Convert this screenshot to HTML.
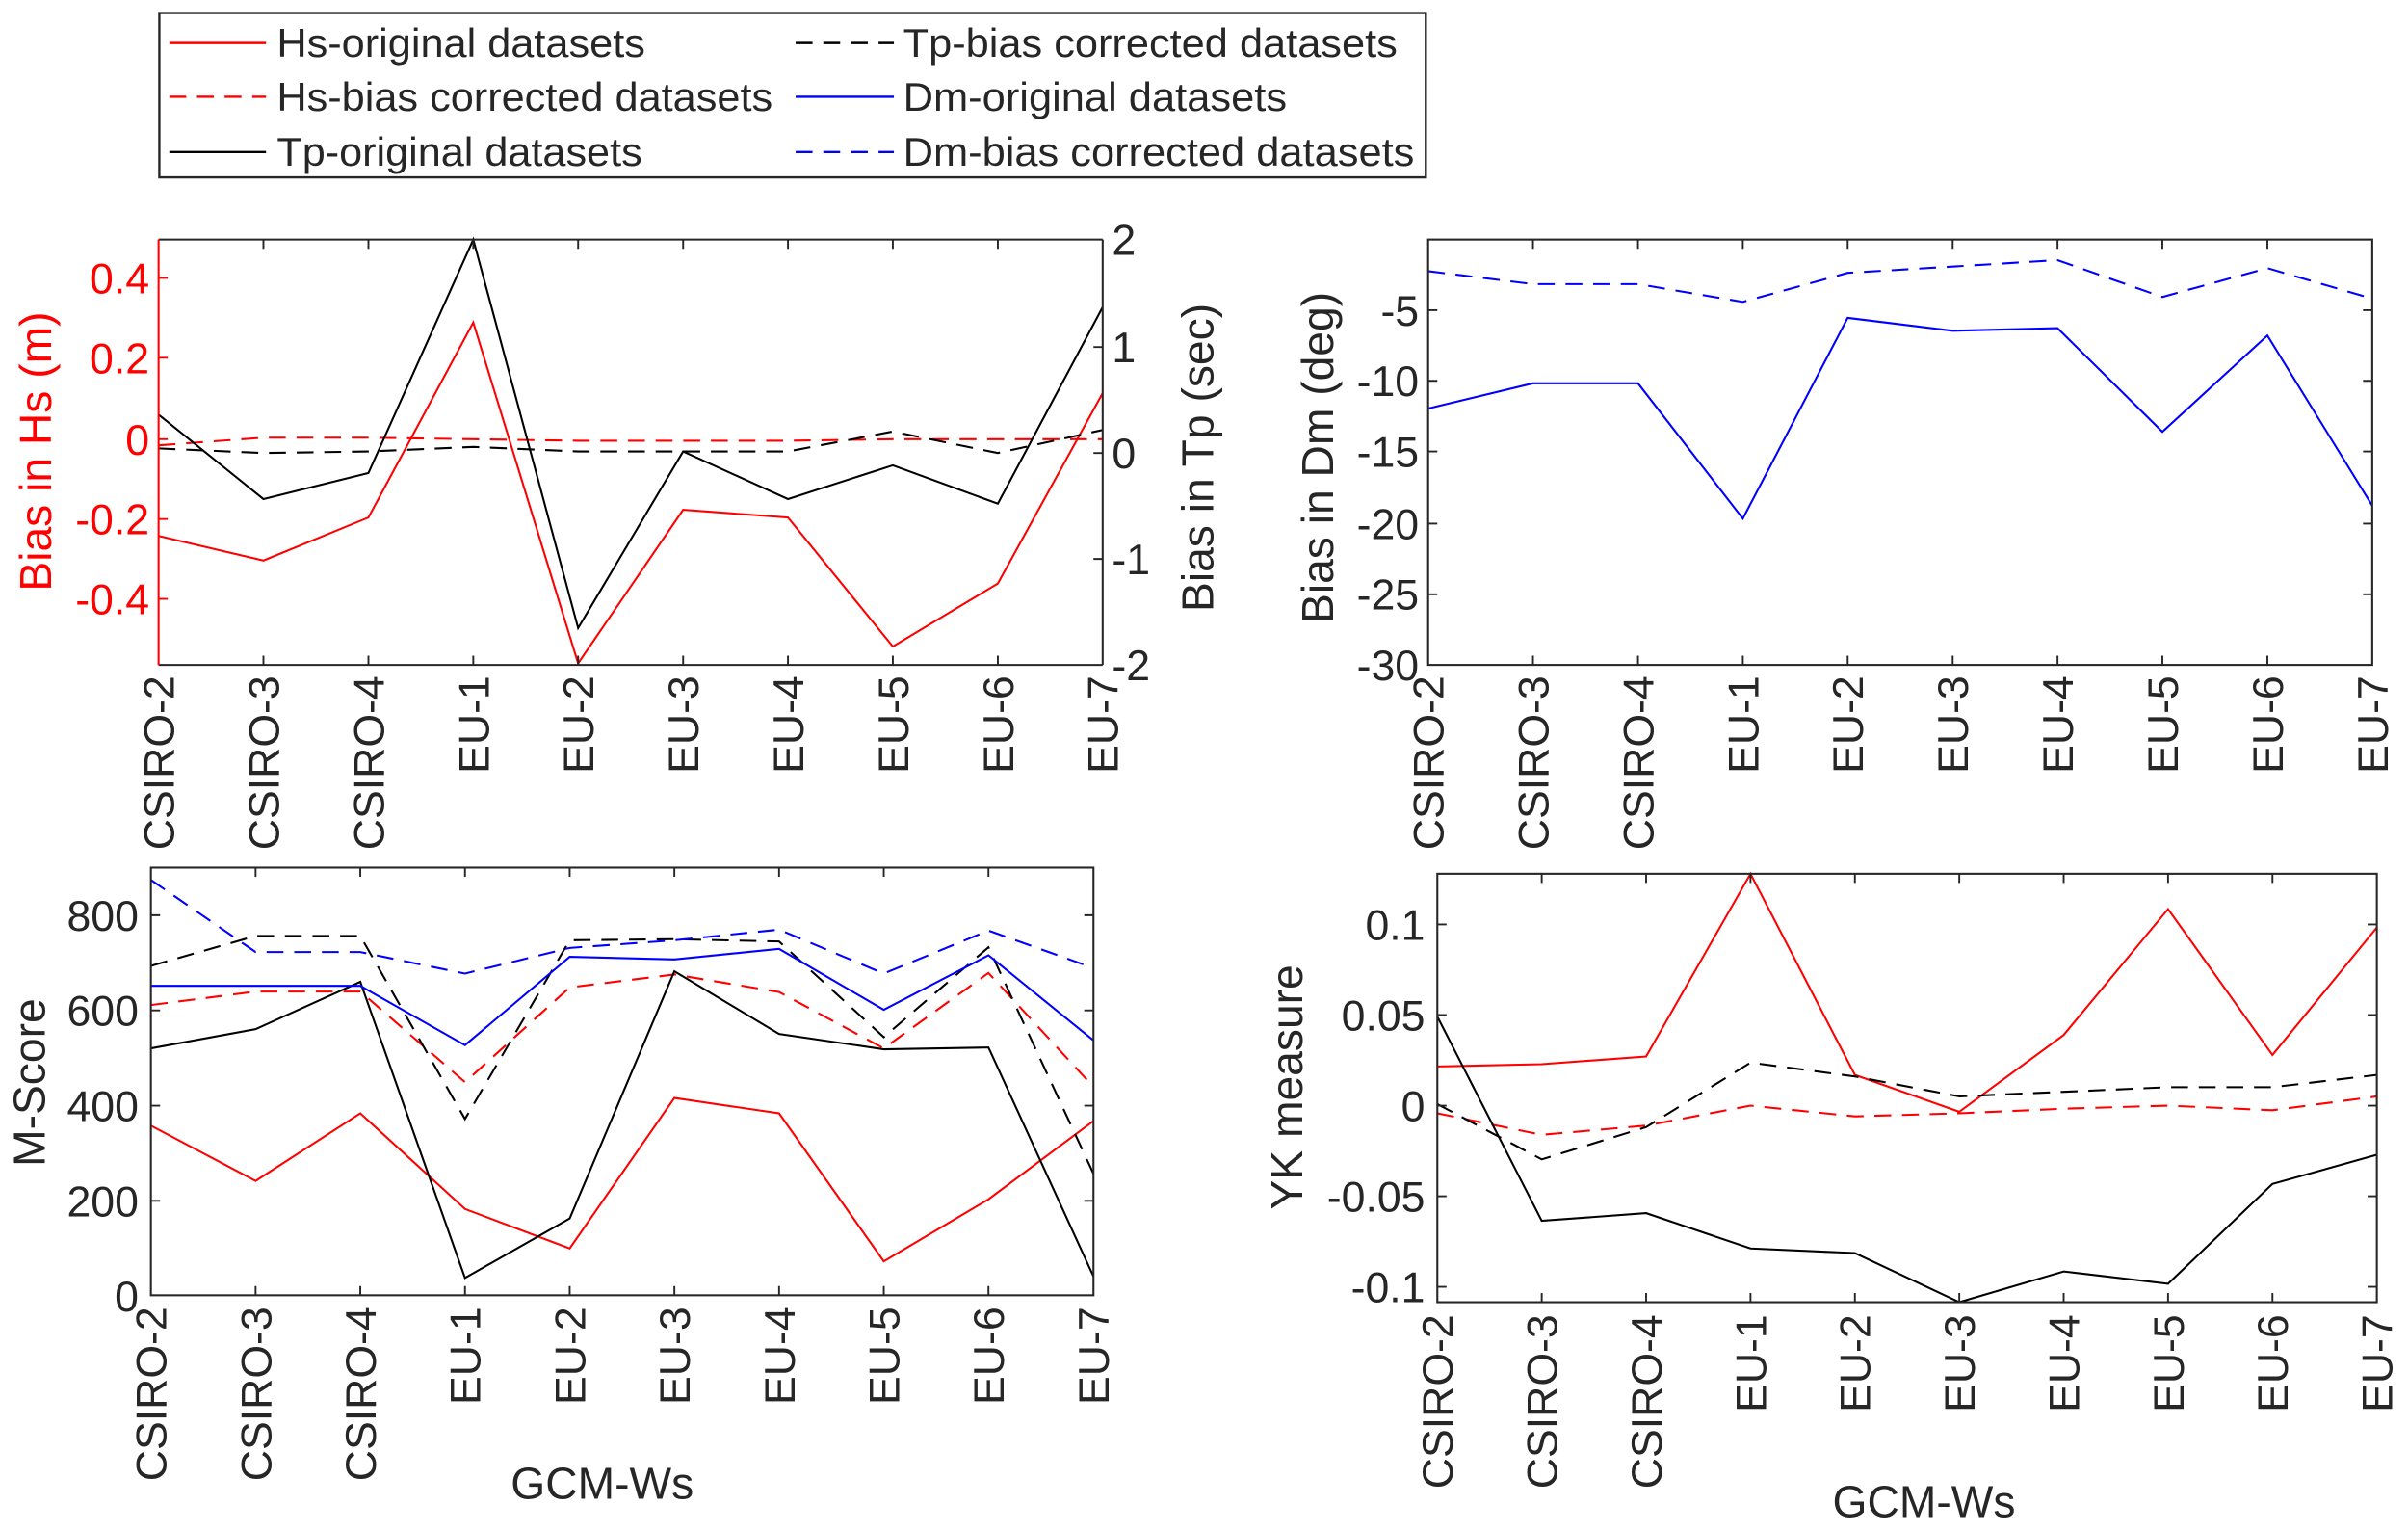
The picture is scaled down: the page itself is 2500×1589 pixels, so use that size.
<!DOCTYPE html>
<html><head><meta charset="utf-8"><style>
html,body{margin:0;padding:0;background:#fff;}
svg{display:block;}
text{font-family:"Liberation Sans",Arial,sans-serif;}
</style></head><body>
<svg width="2500" height="1589" viewBox="0 0 1568 997" xmlns="http://www.w3.org/2000/svg">
<rect width="1568" height="997" fill="#fff"/>
<!-- Legend -->
<rect x="103.5" y="8.5" width="825" height="107" fill="#fff" stroke="#262626" stroke-width="1.5"/>
<g font-size="26" fill="#262626" lengthAdjust="spacingAndGlyphs">
<line x1="110" y1="28" x2="173" y2="28" stroke="#f00" stroke-width="1.5"/>
<text x="180" y="37" textLength="240" lengthAdjust="spacingAndGlyphs">Hs-original datasets</text>
<line x1="110" y1="63" x2="173" y2="63" stroke="#f00" stroke-width="1.5" stroke-dasharray="11,7"/>
<text x="180" y="72" textLength="323" lengthAdjust="spacingAndGlyphs">Hs-bias corrected datasets</text>
<line x1="110" y1="99" x2="173" y2="99" stroke="#000" stroke-width="1.5"/>
<text x="180" y="108" textLength="238" lengthAdjust="spacingAndGlyphs">Tp-original datasets</text>
<line x1="518" y1="28" x2="582" y2="28" stroke="#000" stroke-width="1.5" stroke-dasharray="11,7"/>
<text x="588" y="37" textLength="322" lengthAdjust="spacingAndGlyphs">Tp-bias corrected datasets</text>
<line x1="518" y1="63" x2="582" y2="63" stroke="#00f" stroke-width="1.5"/>
<text x="588" y="72" textLength="250" lengthAdjust="spacingAndGlyphs">Dm-original datasets</text>
<line x1="518" y1="99" x2="582" y2="99" stroke="#00f" stroke-width="1.5" stroke-dasharray="11,7"/>
<text x="588" y="108" textLength="333" lengthAdjust="spacingAndGlyphs">Dm-bias corrected datasets</text>
</g>

<!-- Plot 1 -->
<g fill="none" stroke-width="1.3">
<polyline stroke="#f00" points="103,349 171.3,365 239.7,337 308,210 376.3,432 444.7,332 513,337 581.3,421 649.7,380 718,256"/>
<polyline stroke="#f00" stroke-dasharray="11,7" points="103,290 171.3,285 239.7,285 308,286 376.3,287 444.7,287 513,287 581.3,286 649.7,286 718,286"/>
<polyline stroke="#000" points="103,270 171.3,325 239.7,308 308,156 376.3,409 444.7,294 513,325 581.3,303 649.7,328 718,200"/>
<polyline stroke="#000" stroke-dasharray="11,7" points="103,292 171.3,295 239.7,294 308,291 376.3,294 444.7,294 513,294 581.3,281 649.7,295 718,280"/>
</g>
<line x1="103" y1="156" x2="718" y2="156" stroke="#262626" stroke-width="1.3"/>
<line x1="103" y1="433" x2="718" y2="433" stroke="#262626" stroke-width="1.3"/>
<line x1="103" y1="156" x2="103" y2="433" stroke="#f00" stroke-width="1.3"/>
<line x1="718" y1="156" x2="718" y2="433" stroke="#262626" stroke-width="1.3"/>
<g stroke="#262626" stroke-width="1.2">
<path d="M171.3,433v-6M239.7,433v-6M308,433v-6M376.3,433v-6M444.7,433v-6M513,433v-6M581.3,433v-6M649.7,433v-6M171.3,156v6M239.7,156v6M308,156v6M376.3,156v6M444.7,156v6M513,156v6M581.3,156v6M649.7,156v6"/>
<path d="M718,226h-6M718,295h-6M718,364h-6"/>
</g>
<path d="M103,181h6M103,233h6M103,286h6M103,338h6M103,390h6" stroke="#f00" stroke-width="1.2"/>
<g font-size="28" fill="#f00" text-anchor="end">
<text x="97" y="191">0.4</text><text x="97" y="243">0.2</text><text x="97" y="296">0</text><text x="97" y="348">-0.2</text><text x="97" y="400">-0.4</text>
</g>
<g font-size="28" fill="#262626">
<text x="724" y="166">2</text><text x="724" y="236">1</text><text x="724" y="305">0</text><text x="724" y="374">-1</text><text x="724" y="443">-2</text>
</g>
<text transform="translate(33,294) rotate(-90)" font-size="29" fill="#f00" text-anchor="middle">Bias in Hs (m)</text>
<text transform="translate(790,298) rotate(-90)" font-size="29" fill="#262626" text-anchor="middle">Bias in Tp (sec)</text>
<g font-size="28" fill="#262626" text-anchor="end">
<text transform="translate(113,440) rotate(-90)">CSIRO-2</text>
<text transform="translate(181.3,440) rotate(-90)">CSIRO-3</text>
<text transform="translate(249.7,440) rotate(-90)">CSIRO-4</text>
<text transform="translate(318,440) rotate(-90)">EU-1</text>
<text transform="translate(386.3,440) rotate(-90)">EU-2</text>
<text transform="translate(454.7,440) rotate(-90)">EU-3</text>
<text transform="translate(523,440) rotate(-90)">EU-4</text>
<text transform="translate(591.3,440) rotate(-90)">EU-5</text>
<text transform="translate(659.7,440) rotate(-90)">EU-6</text>
<text transform="translate(728,440) rotate(-90)">EU-7</text>
</g>

<!-- Plot 2 -->
<g fill="none" stroke-width="1.3" stroke="#00f">
<polyline points="930,266 998.3,249.6 1066.7,249.6 1135,337.7 1203.3,207 1271.7,215.4 1340,213.7 1408.3,281.2 1476.7,218.5 1545,329.3"/>
<polyline stroke-dasharray="11,7" points="930,176.6 998.3,185 1066.7,185 1135,196.6 1203.3,177.7 1271.7,173.6 1340,169.4 1408.3,193.4 1476.7,174.6 1545,194.5"/>
</g>
<rect x="930" y="156" width="615" height="277" fill="none" stroke="#262626" stroke-width="1.3"/>
<g stroke="#262626" stroke-width="1.2">
<path d="M998.3,433v-6M1066.7,433v-6M1135,433v-6M1203.3,433v-6M1271.7,433v-6M1340,433v-6M1408.3,433v-6M1476.7,433v-6M998.3,156v6M1066.7,156v6M1135,156v6M1203.3,156v6M1271.7,156v6M1340,156v6M1408.3,156v6M1476.7,156v6"/>
<path d="M930,202h6M930,248h6M930,294h6M930,341h6M930,387h6M1545,202h-6M1545,248h-6M1545,294h-6M1545,341h-6M1545,387h-6"/>
</g>
<g font-size="28" fill="#262626" text-anchor="end">
<text x="924" y="212">-5</text><text x="924" y="258">-10</text><text x="924" y="304">-15</text><text x="924" y="351">-20</text><text x="924" y="397">-25</text><text x="924" y="443">-30</text>
</g>
<text transform="translate(868,298) rotate(-90)" font-size="29" fill="#262626" text-anchor="middle">Bias in Dm (deg)</text>
<g font-size="28" fill="#262626" text-anchor="end">
<text transform="translate(940,440) rotate(-90)">CSIRO-2</text>
<text transform="translate(1008.3,440) rotate(-90)">CSIRO-3</text>
<text transform="translate(1076.7,440) rotate(-90)">CSIRO-4</text>
<text transform="translate(1145,440) rotate(-90)">EU-1</text>
<text transform="translate(1213.3,440) rotate(-90)">EU-2</text>
<text transform="translate(1281.7,440) rotate(-90)">EU-3</text>
<text transform="translate(1350,440) rotate(-90)">EU-4</text>
<text transform="translate(1418.3,440) rotate(-90)">EU-5</text>
<text transform="translate(1486.7,440) rotate(-90)">EU-6</text>
<text transform="translate(1555,440) rotate(-90)">EU-7</text>
</g>

<!-- Plot 3 -->
<g fill="none" stroke-width="1.3">
<polyline stroke="#f00" points="98,733 166.2,769 234.4,725 302.6,787.3 370.8,813 439,715 507.2,725 575.4,821.4 643.6,781 712,730"/>
<polyline stroke="#f00" stroke-dasharray="11,7" points="98,654.5 166.2,645.7 234.4,645.7 302.6,704.7 370.8,643 439,634.6 507.2,646 575.4,682.7 643.6,633.6 712,707.8"/>
<polyline stroke="#000" points="98,682.7 166.2,670.2 234.4,639.4 302.6,832.2 370.8,793.5 439,632.5 507.2,673.3 575.4,683.3 643.6,682.1 712,831.2"/>
<polyline stroke="#000" stroke-dasharray="11,7" points="98,629 166.2,609.5 234.4,609.5 302.6,728.7 370.8,612.3 439,611.6 507.2,613.1 575.4,675.4 643.6,616.9 712,764.3"/>
<polyline stroke="#00f" points="98,642 166.2,642 234.4,642 302.6,680.6 370.8,623.1 439,624.8 507.2,617.9 575.4,657.6 643.6,622.1 712,677.5"/>
<polyline stroke="#00f" stroke-dasharray="11,7" points="98,573 166.2,620 234.4,620 302.6,634 370.8,617.3 439,612.3 507.2,605.4 575.4,634 643.6,606 712,630.4"/>
</g>
<rect x="98" y="565" width="614" height="278.5" fill="none" stroke="#262626" stroke-width="1.3"/>
<g stroke="#262626" stroke-width="1.2">
<path d="M166.2,843.5v-6M234.4,843.5v-6M302.6,843.5v-6M370.8,843.5v-6M439,843.5v-6M507.2,843.5v-6M575.4,843.5v-6M643.6,843.5v-6M166.2,565v6M234.4,565v6M302.6,565v6M370.8,565v6M439,565v6M507.2,565v6M575.4,565v6M643.6,565v6"/>
<path d="M98,596h6M98,658h6M98,720h6M98,782h6M712,596h-6M712,658h-6M712,720h-6M712,782h-6"/>
</g>
<g font-size="28" fill="#262626" text-anchor="end">
<text x="90" y="606">800</text><text x="90" y="668">600</text><text x="90" y="730">400</text><text x="90" y="792">200</text><text x="90" y="854">0</text>
</g>
<text transform="translate(29,705) rotate(-90)" font-size="29" fill="#262626" text-anchor="middle">M-Score</text>
<g font-size="28" fill="#262626" text-anchor="end">
<text transform="translate(108,851) rotate(-90)">CSIRO-2</text>
<text transform="translate(176.2,851) rotate(-90)">CSIRO-3</text>
<text transform="translate(244.4,851) rotate(-90)">CSIRO-4</text>
<text transform="translate(312.6,851) rotate(-90)">EU-1</text>
<text transform="translate(380.8,851) rotate(-90)">EU-2</text>
<text transform="translate(449,851) rotate(-90)">EU-3</text>
<text transform="translate(517.2,851) rotate(-90)">EU-4</text>
<text transform="translate(585.4,851) rotate(-90)">EU-5</text>
<text transform="translate(653.6,851) rotate(-90)">EU-6</text>
<text transform="translate(722,851) rotate(-90)">EU-7</text>
</g>
<text x="392" y="976" font-size="29" fill="#262626" text-anchor="middle">GCM-Ws</text>

<!-- Plot 4 -->
<g fill="none" stroke-width="1.3">
<polyline stroke="#f00" points="936,694.5 1004,693 1072,688 1140,569 1208,700 1276,724 1344,674 1412,592 1480,687 1548,604"/>
<polyline stroke="#f00" stroke-dasharray="11,7" points="936,725 1004,739 1072,733 1140,720 1208,727 1276,725 1344,722 1412,720 1480,723 1548,714"/>
<polyline stroke="#000" points="936,662 1004,795 1072,790 1140,813 1208,816 1276,848 1344,828 1412,836 1480,771 1548,752"/>
<polyline stroke="#000" stroke-dasharray="11,7" points="936,719 1004,755 1072,734 1140,692 1208,701 1276,714 1344,711 1412,708 1480,708 1548,700"/>
</g>
<rect x="936" y="569" width="612" height="279" fill="none" stroke="#262626" stroke-width="1.3"/>
<g stroke="#262626" stroke-width="1.2">
<path d="M1004,848v-6M1072,848v-6M1140,848v-6M1208,848v-6M1276,848v-6M1344,848v-6M1412,848v-6M1480,848v-6M1004,569v6M1072,569v6M1140,569v6M1208,569v6M1276,569v6M1344,569v6M1412,569v6M1480,569v6"/>
<path d="M936,602h6M936,661h6M936,720h6M936,779h6M936,838h6M1548,602h-6M1548,661h-6M1548,720h-6M1548,779h-6M1548,838h-6"/>
</g>
<g font-size="28" fill="#262626" text-anchor="end">
<text x="928" y="612">0.1</text><text x="928" y="671">0.05</text><text x="928" y="730">0</text><text x="928" y="789">-0.05</text><text x="928" y="848">-0.1</text>
</g>
<text transform="translate(848,708) rotate(-90)" font-size="29" fill="#262626" text-anchor="middle">YK measure</text>
<g font-size="28" fill="#262626" text-anchor="end">
<text transform="translate(946,856) rotate(-90)">CSIRO-2</text>
<text transform="translate(1014,856) rotate(-90)">CSIRO-3</text>
<text transform="translate(1082,856) rotate(-90)">CSIRO-4</text>
<text transform="translate(1150,856) rotate(-90)">EU-1</text>
<text transform="translate(1218,856) rotate(-90)">EU-2</text>
<text transform="translate(1286,856) rotate(-90)">EU-3</text>
<text transform="translate(1354,856) rotate(-90)">EU-4</text>
<text transform="translate(1422,856) rotate(-90)">EU-5</text>
<text transform="translate(1490,856) rotate(-90)">EU-6</text>
<text transform="translate(1558,856) rotate(-90)">EU-7</text>
</g>
<text x="1253" y="988" font-size="29" fill="#262626" text-anchor="middle">GCM-Ws</text>
</svg>
</body></html>
